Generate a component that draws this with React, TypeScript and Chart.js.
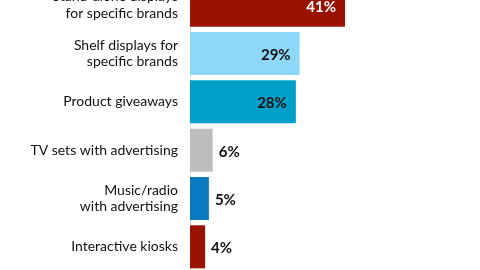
import React, { useEffect, useRef } from "react";
import { Chart, registerables } from "chart.js";

Chart.register(...registerables);

const categories: (string | string[])[] = [
  ["Stand-alone displays", "for specific brands"],
  ["Shelf displays for", "specific brands"],
  "Product giveaways",
  "TV sets with advertising",
  ["Music/radio", "with advertising"],
  "Interactive kiosks",
];
const values = [41, 29, 28, 6, 5, 4];
const barColors = ["#9a1200", "#8dd8f8", "#00a0c8", "#bdbdbd", "#0a7ac0", "#9a1200"];
const labelColors = ["#ffffff", "#111111", "#111111", "#111111", "#111111", "#111111"];

const valueLabels = {
  id: "valueLabels",
  afterDatasetsDraw(chart: any) {
    const ctx = chart.ctx;
    const meta = chart.getDatasetMeta(0);
    ctx.save();
    ctx.font = "bold 15px Lato";
    ctx.textBaseline = "middle";
    meta.data.forEach((bar: any, i: number) => {
      const v = values[i];
      const txt = v + "%";
      ctx.fillStyle = labelColors[i];
      if (v >= 20) {
        ctx.textAlign = "right";
        ctx.fillText(txt, bar.x - 9, bar.y + 1.5);
      } else {
        ctx.textAlign = "left";
        ctx.fillText(txt, bar.x + 6, bar.y + 1.5);
      }
    });
    ctx.restore();
  },
};

export default function App() {
  const ref = useRef<HTMLCanvasElement>(null);
  useEffect(() => {
    if (!ref.current) return;
    const chart = new Chart(ref.current, {
      type: "bar",
      data: {
        labels: categories,
        datasets: [
          {
            data: values,
            backgroundColor: barColors,
            borderWidth: 0,
            barPercentage: 0.89,
            categoryPercentage: 1,
          },
        ],
      },
      options: {
        indexAxis: "y",
        animation: false,
        responsive: true,
        maintainAspectRatio: false,
        layout: { padding: 0 },
        plugins: { legend: { display: false }, tooltip: { enabled: false } },
        scales: {
          x: { display: false, min: 0, max: 76.7 },
          y: {
            afterFit: (s: any) => {
              s.width = 190;
              s.paddingTop = 0;
              s.paddingBottom = 0;
            },
            grid: { display: false, drawTicks: false },
            border: { display: true, color: "#dddddd", width: 1 },
            ticks: {
              padding: 12,
              color: "#111111",
              font: { family: "Lato", size: 14, lineHeight: 1.2 },
            },
          },
        },
      },
      plugins: [valueLabels],
    });
    return () => chart.destroy();
  }, []);
  return (
    <div style={{ position: "absolute", left: 0, top: -19, width: 480, height: 290, overflow: "hidden" }}>
      <canvas ref={ref} style={{ display: "block" }} />
    </div>
  );
}
